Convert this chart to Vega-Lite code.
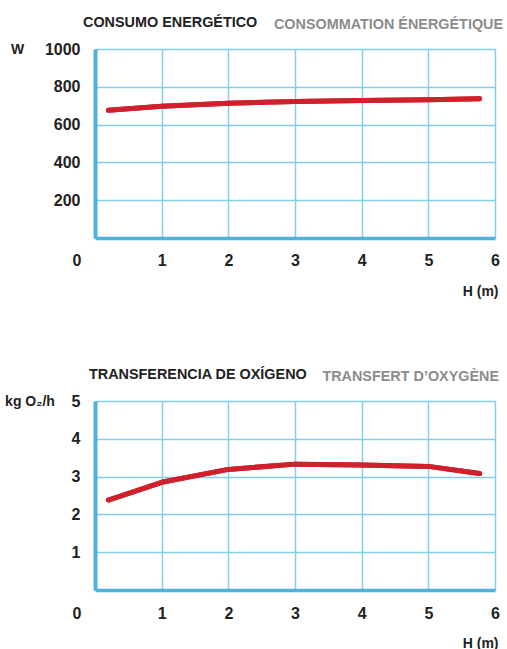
{
  "$schema": "https://vega.github.io/schema/vega-lite/v6.json",
  "padding": {"left": 4, "top": 15, "right": 0, "bottom": 0},
  "autosize": {"type": "pad"},
  "spacing": 69,
  "config": {
    "view": {"stroke": null},
    "font": "Liberation Sans",
    "axis": {
      "grid": true,
      "gridColor": "#86cdea",
      "gridWidth": 1.5,
      "gridOpacity": 1,
      "domainColor": "#4fb1dd",
      "ticks": false,
      "tickSize": 0,
      "labelFont": "Liberation Sans",
      "labelFontWeight": "bold",
      "labelFontSize": 16,
      "labelColor": "#222222",
      "titleFont": "Liberation Sans",
      "titleFontWeight": "bold",
      "titleFontSize": 14,
      "titleColor": "#222222"
    },
    "title": {
      "font": "Liberation Sans",
      "fontSize": 14.4,
      "fontWeight": "bold",
      "color": "#222222",
      "anchor": "start",
      "frame": "group",
      "baseline": "alphabetic"
    }
  },
  "vconcat": [
    {
      "width": 400,
      "height": 189,
      "title": {"text": "CONSUMO ENERGÉTICO", "dx": -12, "offset": -14.4},
      "data": {"values": [
        {"h": 0.2, "w": 676},
        {"h": 1, "w": 697},
        {"h": 2, "w": 713},
        {"h": 3, "w": 722},
        {"h": 4, "w": 728},
        {"h": 5, "w": 732},
        {"h": 5.77, "w": 737}
      ]},
      "resolve": {"axis": {"x": "independent"}},
      "layer": [
        {
          "mark": {"type": "line", "color": "#d0202b", "strokeWidth": 5, "strokeCap": "round", "strokeJoin": "round"},
          "encoding": {
            "x": {"field": "h", "type": "quantitative",
              "scale": {"domain": [0, 6], "nice": false, "zero": false},
              "axis": {"orient": "bottom", "values": [0, 1, 2, 3, 4, 5, 6], "title": "H (m)",
                "titleX": 403, "titleY": 57, "titleAlign": "right", "titleBaseline": "alphabetic", "titleAnchor": "end",
                "labelPadding": 14, "labelFlush": false, "labelOverlap": false, "labelBound": false,
                "labelOffset": {"condition": {"test": "datum.value === 0", "value": -18.5}, "value": 0},
                "domainWidth": 3.5}},
            "y": {"field": "w", "type": "quantitative",
              "scale": {"domain": [0, 1000], "nice": false},
              "axis": {"values": [200, 400, 600, 800, 1000], "format": "d", "title": "W", "titleAngle": 0,
                "titleX": -84.4, "titleY": 0, "titleAlign": "left", "titleBaseline": "middle", "titleAnchor": "end",
                "labelPadding": 15, "domainWidth": 4}}
          }
        },
        {
          "mark": {"type": "line", "color": "#d0202b", "strokeWidth": 5, "strokeCap": "round", "strokeJoin": "round"},
          "encoding": {
            "x": {"field": "h", "type": "quantitative",
              "axis": {"orient": "top", "labels": false, "domain": false, "grid": false, "ticks": false,
                "title": "CONSOMMATION ÉNERGÉTIQUE", "titleColor": "#8c8c8c", "titleFontSize": 14.4,
                "titleX": 407.6, "titleY": -20.7, "titleAlign": "right", "titleBaseline": "alphabetic", "titleAnchor": "end"}},
            "y": {"field": "w", "type": "quantitative",
              "axis": {"values": [200, 400, 600, 800, 1000], "format": "d", "title": "W", "titleAngle": 0,
                "titleX": -84.4, "titleY": 0, "titleAlign": "left", "titleBaseline": "middle", "titleAnchor": "end",
                "labelPadding": 15, "domainWidth": 4}}
          }
        }
      ]
    },
    {
      "width": 400,
      "height": 189,
      "title": {"text": "TRANSFERENCIA DE OXÍGENO", "dx": -6, "offset": -14.4},
      "data": {"values": [
        {"h": 0.2, "o2": 2.38},
        {"h": 1, "o2": 2.85},
        {"h": 2, "o2": 3.19},
        {"h": 3, "o2": 3.33},
        {"h": 4, "o2": 3.31},
        {"h": 5, "o2": 3.27},
        {"h": 5.77, "o2": 3.08}
      ]},
      "resolve": {"axis": {"x": "independent"}},
      "layer": [
        {
          "mark": {"type": "line", "color": "#d0202b", "strokeWidth": 5, "strokeCap": "round", "strokeJoin": "round"},
          "encoding": {
            "x": {"field": "h", "type": "quantitative",
              "scale": {"domain": [0, 6], "nice": false, "zero": false},
              "axis": {"orient": "bottom", "values": [0, 1, 2, 3, 4, 5, 6], "title": "H (m)",
                "titleX": 403, "titleY": 57, "titleAlign": "right", "titleBaseline": "alphabetic", "titleAnchor": "end",
                "labelPadding": 15, "labelFlush": false, "labelOverlap": false, "labelBound": false,
                "labelOffset": {"condition": {"test": "datum.value === 0", "value": -18.5}, "value": 0},
                "domainWidth": 3.5}},
            "y": {"field": "o2", "type": "quantitative",
              "scale": {"domain": [0, 5], "nice": false},
              "axis": {"values": [1, 2, 3, 4, 5], "title": "kg O₂/h", "titleAngle": 0,
                "titleX": -90.4, "titleY": 0, "titleAlign": "left", "titleBaseline": "middle", "titleAnchor": "end",
                "labelPadding": 15, "domainWidth": 4}}
          }
        },
        {
          "mark": {"type": "line", "color": "#d0202b", "strokeWidth": 5, "strokeCap": "round", "strokeJoin": "round"},
          "encoding": {
            "x": {"field": "h", "type": "quantitative",
              "axis": {"orient": "top", "labels": false, "domain": false, "grid": false, "ticks": false,
                "title": "TRANSFERT  D’OXYGÈNE", "titleColor": "#8c8c8c", "titleFontSize": 14.4,
                "titleX": 403.6, "titleY": -20.7, "titleAlign": "right", "titleBaseline": "alphabetic", "titleAnchor": "end"}},
            "y": {"field": "o2", "type": "quantitative",
              "axis": {"values": [1, 2, 3, 4, 5], "title": "kg O₂/h", "titleAngle": 0,
                "titleX": -90.4, "titleY": 0, "titleAlign": "left", "titleBaseline": "middle", "titleAnchor": "end",
                "labelPadding": 15, "domainWidth": 4}}
          }
        }
      ]
    }
  ]
}
